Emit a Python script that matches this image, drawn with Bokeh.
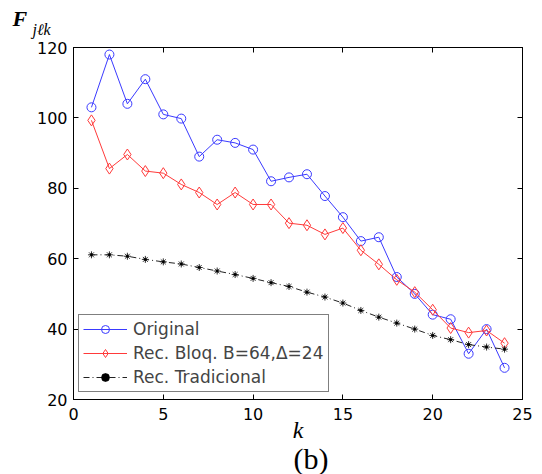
from bokeh.plotting import figure
from bokeh.models import (Range1d, FixedTicker, LinearAxis, Legend, LegendItem,
                          Title, CustomJSTickFormatter)
from bokeh.embed import file_html
from bokeh.resources import INLINE

k = list(range(1, 25))
original = [103, 118, 104, 111, 101, 99.8, 89, 93.8, 92.9, 91, 82, 83.1,
            84, 77.8, 71.8, 65, 66.1, 54.8, 50, 44.1, 42.8, 33, 40, 29]
rec_bloq = [99.3, 85.6, 89.6, 84.9, 84.3, 81.1, 78.8, 75.4, 78.8, 75.4, 75.4, 70.1,
            69.5, 66.9, 68.7, 62.4, 58.4, 54, 50.5, 45.5, 40.3, 39, 39.6, 36]
rec_trad = [61.1, 61.1, 60.7, 59.8, 59.1, 58.5, 57.5, 56.5, 55.5, 54.4, 53.2, 52.1,
            50.5, 49.1, 47.4, 45.3, 43.4, 41.7, 40, 38.2, 37, 35.6, 34.9, 34.3]
x_ticks = [0, 5, 10, 15, 20, 25]
y_ticks = [20, 40, 60, 80, 100, 120]
labels = ["Original", "Rec. Bloq. B=64,\u0394=24", "Rec. Tradicional"]

BLUE = "#3a3aff"
RED = "#ff3a3a"
serif = "Liberation Serif"

p = figure(width=542, height=474, output_backend="svg", toolbar_location=None,
           x_range=Range1d(0, 25), y_range=Range1d(20, 120),
           min_border_left=73, min_border_right=20, min_border_top=47,
           min_border_bottom=75, x_axis_type=None, y_axis_type=None)
p.grid.visible = False
p.outline_line_color = "black"
p.outline_line_width = 1

p.title = Title(text="F", text_font=serif, text_font_style="bold italic",
                text_font_size="22px", align="left", offset=-61, standoff=-44,
                text_color="black")

def make_axis(ticks, show_labels):
    ax = LinearAxis(ticker=FixedTicker(ticks=ticks))
    ax.major_tick_in = 5
    ax.major_tick_out = 0
    ax.minor_tick_line_color = None
    ax.axis_line_color = "black"
    ax.major_tick_line_color = "black"
    ax.major_tick_line_width = 1
    ax.major_label_text_font = "DejaVu Sans"
    ax.major_label_text_font_size = "16px"
    ax.major_label_text_color = "black"
    if not show_labels:
        ax.formatter = CustomJSTickFormatter(code="return ''")
        ax.major_label_standoff = 0
    return ax

xb = make_axis(x_ticks, True); xb.major_label_standoff = 8
xb.axis_label = "k"
xb.axis_label_text_font = serif
xb.axis_label_text_font_style = "italic"
xb.axis_label_text_font_size = "24px"
xb.axis_label_text_color = "black"
xb.axis_label_standoff = -6
xt = make_axis(x_ticks, False)
yl = make_axis(y_ticks, True); yl.major_label_standoff = 6
yr = make_axis(y_ticks, False)
p.add_layout(xb, "below")
p.add_layout(xt, "above")
p.add_layout(yl, "left")
p.add_layout(yr, "right")

p.add_layout(Title(text="j\u2113k", text_font=serif, text_font_style="italic",
                   text_font_size="16px", align="left", offset=-41, standoff=20,
                   text_color="black"), "above")
p.add_layout(Title(text="(b)", text_font=serif, text_font_style="normal",
                   text_font_size="30px", align="left", offset=220, standoff=-12,
                   text_color="black"), "below")

l1 = p.line(k, original, line_color=BLUE, line_width=1)
m1 = p.scatter(k, original, marker="circle", size=9, fill_color=None,
               line_color=BLUE, line_width=1)
l2 = p.line(k, rec_bloq, line_color=RED, line_width=1)
m2 = p.scatter(k, rec_bloq, marker="diamond", size=11, fill_color=None,
               line_color=RED, line_width=1)
l3 = p.line(k, rec_trad, line_color="#222222", line_width=1, line_dash="6 3 1 3")
m3 = p.scatter(k, rec_trad, marker="asterisk", size=7, line_color="#333333",
               line_width=1)
m3b = p.scatter(k, rec_trad, marker="circle", size=2.5, fill_color="black",
                line_color="black", line_width=0.5)

legend = Legend(items=[LegendItem(label=labels[0], renderers=[l1, m1]),
                       LegendItem(label=labels[1], renderers=[l2, m2]),
                       LegendItem(label=labels[2], renderers=[l3, m3, m3b])],
                location=(5, 7), border_line_color="black", border_line_width=1,
                background_fill_color="white", background_fill_alpha=1,
                label_text_font="DejaVu Sans", label_text_font_size="17px",
                glyph_width=44, glyph_height=20, label_height=20, spacing=4,
                padding=4, margin=0, label_standoff=6)
p.add_layout(legend)

open("out.html", "w").write(file_html(p, INLINE))
